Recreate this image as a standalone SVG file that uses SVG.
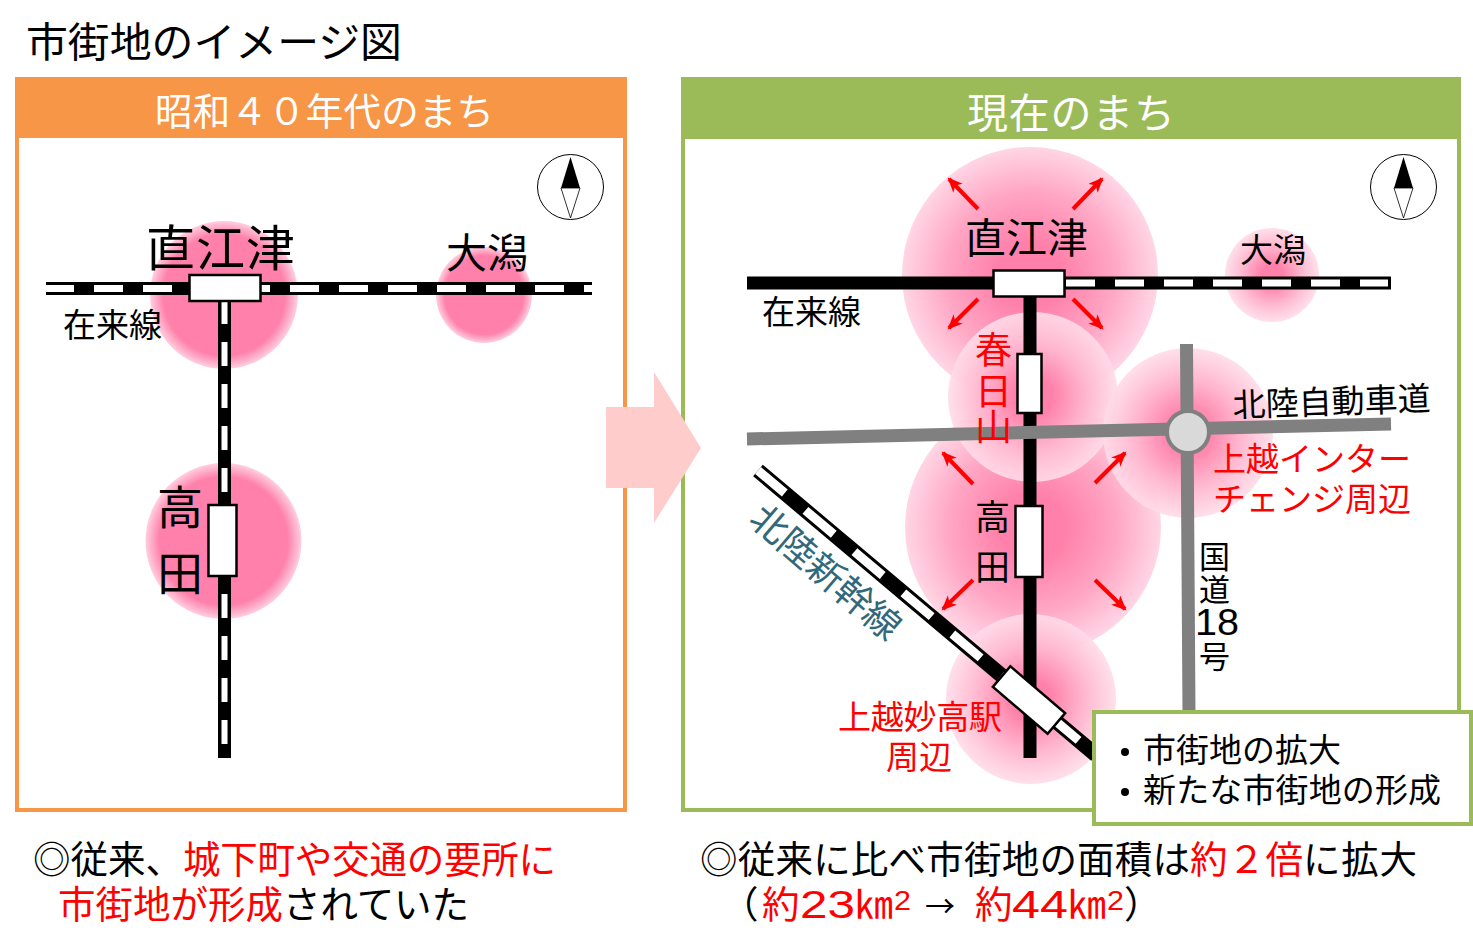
<svg xmlns="http://www.w3.org/2000/svg" width="1473" height="948" viewBox="0 0 1473 948">
<style>
text{font-family:"Noto Sans CJK JP","Noto Sans",sans-serif;fill:#000}
.r{fill:#f00}
.w{fill:#fff}
.l{font-family:"Liberation Sans",sans-serif}
.st{fill:#fff;stroke:#000;stroke-width:2.5}
.rb{fill:none;stroke:#000;stroke-width:13}
.rw{fill:none;stroke:#fff;stroke-width:7;stroke-dasharray:29 20}
.rv{fill:none;stroke:#fff;stroke-width:6;stroke-dasharray:24 18}
.rd{fill:none;stroke:#808080;stroke-width:13}
.ar{fill:none;stroke:#f00;stroke-width:4;marker-end:url(#a)}
</style>
<defs>
<radialGradient id="g1"><stop offset="0" stop-color="#ff80aa"/><stop offset=".82" stop-color="#ff80aa"/><stop offset="1" stop-color="#ffcfe0"/></radialGradient>
<radialGradient id="g2"><stop offset="0" stop-color="#ff80aa"/><stop offset=".25" stop-color="#ff80aa"/><stop offset=".65" stop-color="#ffa6c4"/><stop offset="1" stop-color="#ffd6e5"/></radialGradient>
<radialGradient id="g3"><stop offset="0" stop-color="#ff80aa"/><stop offset=".22" stop-color="#ff80aa"/><stop offset=".6" stop-color="#ffb4cd"/><stop offset="1" stop-color="#ffdce9" stop-opacity=".9"/></radialGradient>
<marker id="a" markerWidth="16" markerHeight="14" refX="13" refY="6.500" orient="auto" markerUnits="userSpaceOnUse"><path d="M0 0L15 6.500L0 13L4 6.500Z" fill="#f00"/></marker>
</defs>
<rect width="1473" height="948" fill="#fff"/>
<text id="title" x="26" y="57" font-size="41" textLength="376" lengthAdjust="spacingAndGlyphs">市街地のイメージ図</text>

<g id="panel-left">
<rect x="17" y="79" width="608" height="731" fill="#fff" stroke="#f79646" stroke-width="4"/>
<rect x="15" y="77" width="612" height="61" fill="#f79646"/>
<text class="w" x="155" y="125" font-size="37.500" textLength="339">昭和４０年代のまち</text>
</g>
<g id="left-areas">
<circle cx="224" cy="295" r="74" fill="url(#g1)"/>
<circle cx="484" cy="295" r="48" fill="url(#g1)"/>
<circle cx="223.500" cy="541" r="78" fill="url(#g1)"/>
</g>
<g id="connectors-left">
<path class="rb" d="M46 288.500H592"/>
<path class="rw" d="M45 288.500H592"/>
<path class="rb" d="M224.500 301V758"/>
<path class="rv" d="M224.500 300V746"/>
</g>
<g id="left-naoetsu"><rect class="st" x="189.500" y="275" width="71" height="26"/><text x="146" y="266" font-size="49" textLength="149">直江津</text></g>
<g id="left-ogata"><text x="446" y="268" font-size="41" textLength="82">大潟</text></g>
<g id="left-zairai"><text x="63" y="337" font-size="33" textLength="99">在来線</text></g>
<g id="left-takada"><rect class="st" x="208.500" y="505" width="28" height="71"/><text x="157" y="524" font-size="46">高</text><text x="157" y="590" font-size="46">田</text></g>
<g id="compass-left"><ellipse cx="570.500" cy="187" rx="33" ry="32.500" fill="#fff" stroke="#000"/><path d="M570.500 157L561 188H580Z" fill="#000"/><path d="M561 188H580L570.500 218Z" fill="#fff" stroke="#000" stroke-width=".8"/></g>

<g id="panel-right">
<rect x="683" y="79" width="776" height="731" fill="#fff" stroke="#9bbb59" stroke-width="4"/>
<rect x="681" y="77" width="780" height="62" fill="#9bbb59"/>
<text class="w" x="967" y="128" font-size="41" textLength="208">現在のまち</text>
</g>
<g id="big-arrow"><path d="M606 407H654V372L701 448L654 523V488H606Z" fill="#ffcccc"/></g>
<g id="right-areas">
<circle cx="1030" cy="275" r="128" fill="url(#g2)"/>
<circle cx="1272" cy="275" r="47" fill="url(#g3)"/>
<circle cx="1033" cy="527" r="128" fill="url(#g2)"/>
<circle cx="1033" cy="397" r="85" fill="url(#g3)"/>
<circle cx="1188" cy="433" r="85" fill="url(#g3)"/>
<circle cx="1031" cy="699" r="85" fill="url(#g3)"/>
</g>
<g id="connectors-right">
<path class="rb" d="M1030 297V758"/>
<path class="rb" d="M747 283H1391"/>
<path class="rw" d="M1066 283H1388"/>
<path class="rd" d="M747 439L1391 424"/>
<path class="rd" d="M1186.500 344L1189 712"/>
<path d="M758 470.500L1096 755" fill="none" stroke="#000" stroke-width="15"/>
<path d="M758 470.500L1096 755" fill="none" stroke="#fff" stroke-width="9" stroke-dasharray="37 27" stroke-dashoffset="2"/>
<path class="ar" d="M978 209L949 179"/>
<path class="ar" d="M1073 209L1102 179"/>
<path class="ar" d="M978 299L949 328"/>
<path class="ar" d="M1073 299L1102 328"/>
<path class="ar" d="M973 484L943 453"/>
<path class="ar" d="M1095 483L1125 453"/>
<path class="ar" d="M973 580L943 609"/>
<path class="ar" d="M1095 580L1125 609"/>
</g>
<g id="right-naoetsu"><rect class="st" x="993.500" y="270.500" width="71" height="26"/><text x="965" y="253" font-size="41" textLength="123">直江津</text></g>
<g id="right-ogata"><text x="1240" y="262" font-size="33" textLength="66">大潟</text></g>
<g id="right-zairai"><text x="762" y="324" font-size="33" textLength="99">在来線</text></g>
<g id="kasugayama"><rect class="st" x="1017.500" y="354" width="24" height="59"/><text class="r" font-size="37" x="975" y="364">春</text><text class="r" font-size="37" x="975" y="405">日</text><text class="r" font-size="37" x="975" y="441">山</text></g>
<g id="right-takada"><rect class="st" x="1015.500" y="506" width="27" height="71"/><text x="975" y="530" font-size="35">高</text><text x="975" y="580" font-size="35">田</text></g>
<g id="hokuriku-expressway"><text x="1233" y="417" font-size="33" textLength="198" transform="rotate(-2 1233 417)">北陸自動車道</text></g>
<g id="joetsu-ic"><ellipse cx="1188" cy="432" rx="21" ry="21" fill="#d9d9d9" stroke="#808080" stroke-width="4"/><text class="r" x="1213" y="471" font-size="33" textLength="198">上越インター</text><text class="r" x="1213" y="511" font-size="33" textLength="198">チェンジ周辺</text></g>
<g id="route18"><text x="1199" y="568" font-size="31">国</text><text x="1199" y="601" font-size="31">道</text><text class="l" x="1195" y="635" font-size="37" textLength="44" lengthAdjust="spacingAndGlyphs">18</text><text x="1199" y="668" font-size="31">号</text></g>
<g id="shinkansen-label"><text x="747" y="522" font-size="37" style="fill:#31687a" transform="rotate(40.600 747 522)">北陸新幹線</text></g>
<g id="joetsumyoko"><rect class="st" x="-36" y="-13.500" width="72" height="27" transform="translate(1029 700) rotate(40.500)"/><text class="r" x="838" y="729" font-size="33" textLength="164">上越妙高駅</text><text class="r" x="886" y="769" font-size="33" textLength="66">周辺</text></g>
<g id="compass-right"><ellipse cx="1403.500" cy="187" rx="33" ry="32.500" fill="#fff" stroke="#000"/><path d="M1403.500 157L1394 188H1413Z" fill="#000"/><path d="M1394 188H1413L1403.500 218Z" fill="#fff" stroke="#000" stroke-width=".8"/></g>
<g id="summary-box"><rect x="1094" y="712" width="377" height="112" fill="#fff" stroke="#9bbb59" stroke-width="4"/><circle cx="1125" cy="752" r="4"/><circle cx="1125" cy="792" r="4"/><text x="1143" y="762" font-size="33" textLength="198">市街地の拡大</text><text x="1143" y="802" font-size="33" textLength="298">新たな市街地の形成</text></g>
<g id="caption-left"><text font-size="37.500" y="873" x="33" textLength="150">◎従来、</text><text class="r" font-size="37.500" y="873" x="183" textLength="373">城下町や交通の要所に</text><text class="r" font-size="37.500" y="918" x="58" textLength="225">市街地が形成</text><text font-size="37.500" y="918" x="283" textLength="186">されていた</text></g>
<g id="caption-right"><text font-size="37.500" y="873" x="700" textLength="490">◎従来に比べ市街地の面積は</text><text class="r" font-size="37.500" y="873" x="1190" textLength="113">約２倍</text><text font-size="37.500" y="873" x="1303" textLength="114">に拡大</text>
<text font-size="37.500" y="918" x="721">（</text><text class="r" font-size="37.500" y="918" x="762">約</text><text class="r l" font-size="38" y="918" x="800" textLength="55" lengthAdjust="spacingAndGlyphs">23</text><text class="r" font-size="37.500" y="918" x="855" textLength="38" lengthAdjust="spacingAndGlyphs">㎞</text><text class="r l" font-size="28" y="910" x="894" textLength="17" lengthAdjust="spacingAndGlyphs">2</text><text font-size="30" y="917" x="925">→</text><text class="r" font-size="37.500" y="918" x="975">約</text><text class="r l" font-size="38" y="918" x="1012" textLength="56" lengthAdjust="spacingAndGlyphs">44</text><text class="r" font-size="37.500" y="918" x="1068" textLength="38" lengthAdjust="spacingAndGlyphs">㎞</text><text class="r l" font-size="28" y="910" x="1107" textLength="17" lengthAdjust="spacingAndGlyphs">2</text><text font-size="37.500" y="918" x="1124">）</text></g>
</svg>
